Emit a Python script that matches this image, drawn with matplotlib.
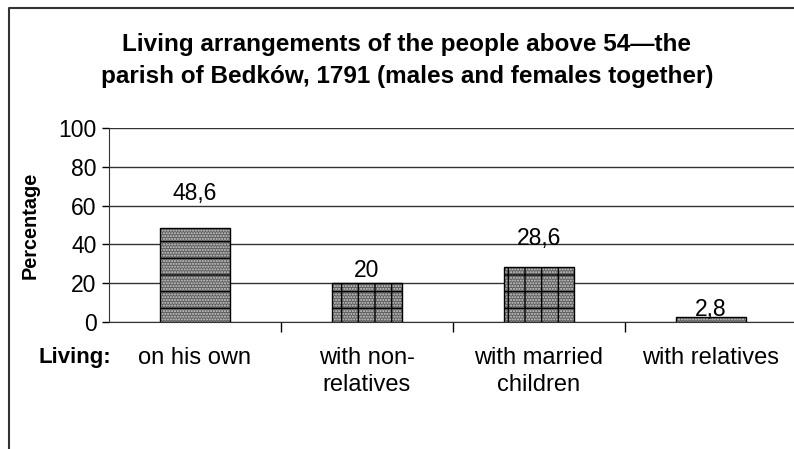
import matplotlib
matplotlib.use("Agg")
import matplotlib.pyplot as plt
from matplotlib.lines import Line2D

plt.rcParams['font.family'] = ['Liberation Sans', 'DejaVu Sans']
plt.rcParams['hatch.linewidth'] = 1.0

# data
categories = ["on his own", "with non-\nrelatives", "with married\nchildren", "with relatives"]
values = [48.6, 20, 28.6, 2.8]
value_labels = ["48,6", "20", "28,6", "2,8"]
label_offsets = [34, 13, 28, 7]          # pixels above bar top (as placed in the original)
line_hatches = ["-", "+", "+", ""]
yticks = [0, 20, 40, 60, 80, 100]

W, H = 794, 449
fig = plt.figure(figsize=(W / 100, H / 100), dpi=100)
fig.patch.set_facecolor("white")

ax = fig.add_axes([109 / W, (H - 322) / H, 688 / W, 194 / H])
x = list(range(len(categories)))

# dotted grey fill, then black line pattern on top
ax.bar(x, values, width=0.41, color="#5e5e5e", edgecolor="#cfcfcf",
       hatch="......", linewidth=0, zorder=3)
for xi, v, h in zip(x, values, line_hatches):
    ax.bar(xi, v, width=0.41, facecolor="none", edgecolor="black",
           hatch=h, linewidth=1, zorder=4)

for xi, v, lab, off in zip(x, values, value_labels, label_offsets):
    ax.annotate(lab, (xi, v), xytext=(0, off), textcoords="offset pixels",
                ha="center", va="center", fontsize=16.5, zorder=5)

ax.set_xlim(-0.5, 3.5)
ax.set_ylim(0, 100)
ax.set_yticks(yticks)
ax.tick_params(axis="y", labelsize=16.5, length=5, direction="out", width=1, pad=4)
ax.yaxis.grid(True, color="#333333", linewidth=1)
ax.set_axisbelow(True)

ax.set_xticks([0.5, 1.5, 2.5])
ax.set_xticklabels([])
ax.tick_params(axis="x", which="major", length=7, direction="out", width=1)
ax.set_xticks(x, categories, minor=True)
ax.tick_params(axis="x", which="minor", length=0, labelsize=17, pad=18)
for t in ax.get_xticklabels(minor=True):
    t.set_verticalalignment("top")
    t.set_linespacing(1.3)

for s in ["top", "right"]:
    ax.spines[s].set_visible(False)
ax.spines["left"].set_color("#333333")
ax.spines["bottom"].set_color("#333333")

ax.set_ylabel("Percentage", fontsize=14.3, fontweight="bold")
ax.yaxis.set_label_coords(-(109 - 40) / 688, 0.5)

fig.text(75 / W, 1 - 357 / H, "Living:", ha="center", va="center",
         fontsize=16, fontweight="bold")
fig.text(407 / W, 1 - 61 / H,
         "Living arrangements of the people above 54\u2014the\nparish of Bedk\u00f3w, 1791 (males and females together)",
         ha="center", va="center", fontsize=17.5, fontweight="bold", linespacing=1.5)

# frame of the chart area (only left and top edges are visible in the crop)
fig.add_artist(Line2D([9 / W, 9 / W, 1], [0, 1 - 8 / H, 1 - 8 / H],
                      transform=fig.transFigure, color="#333333", linewidth=1.5))

fig.savefig("out.png", dpi=100)
